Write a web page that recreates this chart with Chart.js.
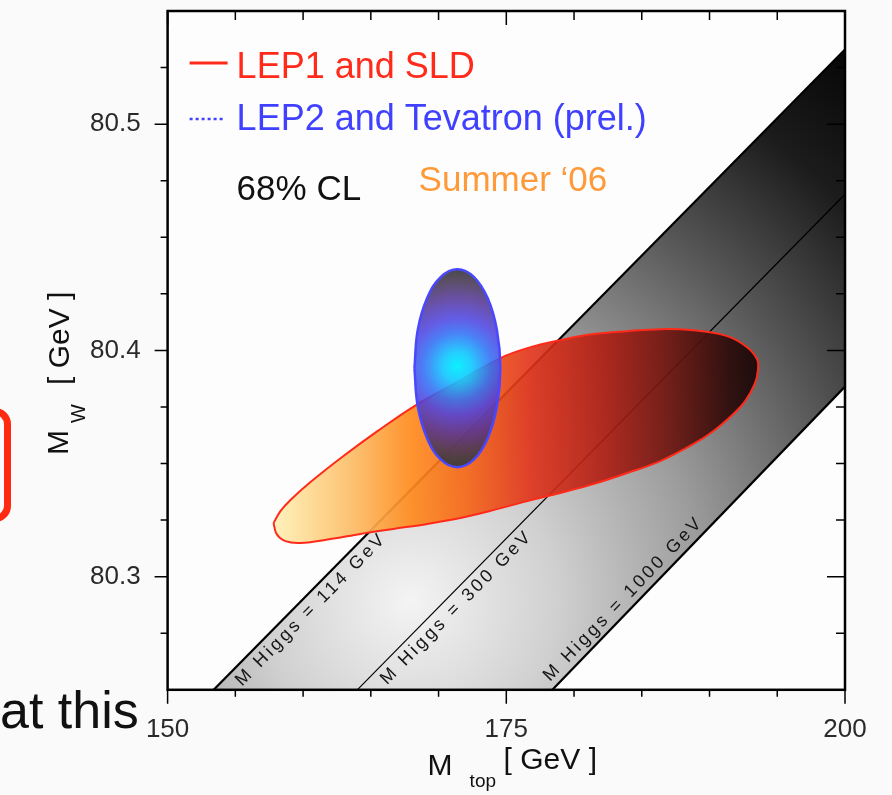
<!DOCTYPE html>
<html lang="en">
<head>
<meta charset="utf-8">
<title>M_W vs M_top</title>
<script src="https://cdn.jsdelivr.net/npm/chart.js@4.4.1/dist/chart.umd.min.js"></script>
<style>
  html, body { margin: 0; padding: 0; background: #fafafa; }
  #wrap { position: relative; width: 892px; height: 795px; overflow: hidden; }
  #mw-chart { position: absolute; left: 0; top: 0; }
  .slide-box { position: absolute; left: -26px; top: 408px; width: 23px; height: 100px; border: 7px solid #ff2a10; border-radius: 16px; }
  .slide-text { position: absolute; left: 0; top: 684px; font: 52px/52px "Liberation Sans", Arial, sans-serif; color: #111; white-space: nowrap; }
</style>
</head>
<body>
<div id="wrap">
  <canvas id="mw-chart" width="892" height="795"></canvas>
  <div class="slide-box"></div>
  <div class="slide-text">at this</div>
</div>
<script>
// M_W vs M_top, 68% CL contours (Summer '06)

const FONT = '"Liberation Sans", Arial, Helvetica, sans-serif';

// axes [GeV]
const xRange = [150, 200];
const yRange = [80.25, 80.55];
const xTickValues = [150, 175, 200];
const xMinorTicks = [155, 160, 165, 170, 180, 185, 190, 195];
const yTickValues = [80.3, 80.4, 80.5];
const yMinorTicks = [80.275, 80.325, 80.35, 80.375, 80.425, 80.45, 80.475, 80.525];

// SM lines for M_Higgs = 114 / 300 / 1000 GeV
const higgsMasses = [114, 300, 1000];
const higgsBottomX = [153.4, 164.0, 178.4];      // M_top where the line meets M_W = 80.25
const higgsRightY = [80.533, 80.469, 80.384];    // M_W where the line meets M_top = 200

// LEP1 and SLD contour
const lep1X = [157.82, 158.33, 159.07, 160.55, 162.98, 165.49, 168.22, 171.61, 174.56, 176.55,
  178.98, 181.42, 183.92, 186.36, 188.79, 191.30, 192.77, 193.51, 193.58, 193.36,
  192.63, 191.74, 190.27, 188.79, 186.36, 183.92, 181.42, 178.98, 176.55, 174.04,
  171.61, 169.17, 166.67, 164.23, 162.02, 159.81, 158.70, 158.04];
const lep1Y = [80.3237, 80.3290, 80.3339, 80.3418, 80.3533, 80.3643, 80.3754, 80.3868, 80.3966, 80.4010,
  80.4045, 80.4072, 80.4085, 80.4094, 80.4089, 80.4063, 80.4014, 80.3961, 80.3917, 80.3855,
  80.3776, 80.3718, 80.3643, 80.3586, 80.3511, 80.3458, 80.3409, 80.3370, 80.3334, 80.3294,
  80.3259, 80.3233, 80.3211, 80.3189, 80.3166, 80.3149, 80.3157, 80.3189];

// LEP2 and Tevatron (prel.) contour
const lep2X = [168.22, 168.46, 169.15, 170.17, 171.39, 172.60, 173.63, 174.31,
  174.56, 174.31, 173.63, 172.60, 171.39, 170.17, 169.15, 168.46];
const lep2Y = [80.3921, 80.4089, 80.4230, 80.4325, 80.4359, 80.4325, 80.4230, 80.4089,
  80.3921, 80.3754, 80.3612, 80.3517, 80.3484, 80.3517, 80.3612, 80.3754];

// shading anchors
const bandLightSpot = { x: 167.9, y: 80.289 };
const lep2Core = { x: 171.39, y: 80.393 };

function contour(xs, ys) {
  const pts = xs.map((x, i) => ({ x, y: ys[i] }));
  pts.push({ ...pts[0] });
  return pts;
}

function higgsLine(i) {
  return [{ x: higgsBottomX[i], y: yRange[0] }, { x: xRange[1], y: higgsRightY[i] }];
}

function toPx(chart, p) {
  return { x: chart.scales.x.getPixelForValue(p.x), y: chart.scales.y.getPixelForValue(p.y) };
}

function bandFill(c) {
  const chart = c.chart;
  if (!chart.chartArea || !chart.scales.x) return '#b0b0b0';
  const a = chart.chartArea;
  const o = toPx(chart, bandLightSpot);
  const r = Math.hypot(a.right - o.x, a.top - o.y);
  const g = chart.ctx.createRadialGradient(o.x, o.y, 0, o.x, o.y, r);
  g.addColorStop(0, '#f4f4f4');
  g.addColorStop(0.2, '#d0d0d0');
  g.addColorStop(0.4, '#9c9c9c');
  g.addColorStop(0.6, '#5a5a5a');
  g.addColorStop(0.8, '#1c1c1c');
  g.addColorStop(1, '#000000');
  return g;
}

function lep1Fill(c) {
  const chart = c.chart;
  if (!chart.chartArea || !chart.scales.x) return 'rgba(230,60,20,0.9)';
  const x0 = chart.scales.x.getPixelForValue(Math.min(...lep1X));
  const x1 = chart.scales.x.getPixelForValue(Math.max(...lep1X));
  const g = chart.ctx.createLinearGradient(x0, 0, x1, 0);
  g.addColorStop(0, 'rgba(255,242,185,0.95)');
  g.addColorStop(0.16, 'rgba(252,190,105,0.93)');
  g.addColorStop(0.28, 'rgba(255,140,30,0.92)');
  g.addColorStop(0.4, 'rgba(246,100,20,0.9)');
  g.addColorStop(0.53, 'rgba(225,50,25,0.9)');
  g.addColorStop(0.67, 'rgba(180,30,18,0.9)');
  g.addColorStop(0.81, 'rgba(115,22,16,0.92)');
  g.addColorStop(0.94, 'rgba(45,12,10,0.94)');
  g.addColorStop(1, 'rgba(25,8,8,0.95)');
  return g;
}

function lep2Fill(c) {
  const chart = c.chart;
  if (!chart.chartArea || !chart.scales.x) return 'rgba(60,80,240,0.85)';
  const o = toPx(chart, lep2Core);
  const top = chart.scales.y.getPixelForValue(Math.max(...lep2Y));
  const r = Math.abs(o.y - top);
  const g = chart.ctx.createRadialGradient(o.x, o.y, 0, o.x, o.y, r);
  g.addColorStop(0, 'rgba(0,240,255,0.95)');
  g.addColorStop(0.15, 'rgba(20,200,255,0.92)');
  g.addColorStop(0.35, 'rgba(50,110,245,0.88)');
  g.addColorStop(0.5, 'rgba(75,65,225,0.86)');
  g.addColorStop(0.7, 'rgba(80,50,150,0.85)');
  g.addColorStop(0.87, 'rgba(70,55,85,0.88)');
  g.addColorStop(1, 'rgba(58,58,58,0.92)');
  return g;
}

// text along the Higgs lines: distance along line, offset from it
const higgsLabelPlace = [
  { s: 22, d: 4, base: 'top' },
  { s: 24, d: 4, base: 'top' },
  { s: 4, d: -3, base: 'bottom' }
];

function drawHiggsLabels(chart) {
  const { ctx, chartArea: a } = chart;
  ctx.save();
  ctx.beginPath();
  ctx.rect(a.left, a.top, a.right - a.left, a.bottom - a.top);
  ctx.clip();
  ctx.fillStyle = '#151515';
  ctx.font = `18px ${FONT}`;
  if ('letterSpacing' in ctx) ctx.letterSpacing = '3px';
  higgsMasses.forEach((m, i) => {
    const [p0, p1] = higgsLine(i).map(p => toPx(chart, p));
    const ang = Math.atan2(p1.y - p0.y, p1.x - p0.x);
    const place = higgsLabelPlace[i];
    ctx.save();
    ctx.translate(p0.x, p0.y);
    ctx.rotate(ang);
    ctx.textBaseline = place.base;
    ctx.fillText(`M Higgs = ${m} GeV`, place.s, place.d);
    ctx.restore();
  });
  ctx.restore();
}

function drawKey(chart) {
  const { ctx, chartArea: a } = chart;
  const L = a.left, T = a.top;
  ctx.save();
  ctx.lineCap = 'butt';
  ctx.strokeStyle = '#ff2a1a';
  ctx.lineWidth = 3;
  ctx.beginPath();
  ctx.moveTo(L + 22, T + 52);
  ctx.lineTo(L + 60, T + 52);
  ctx.stroke();
  ctx.strokeStyle = '#4040ff';
  ctx.lineWidth = 2.5;
  ctx.setLineDash([3, 3]);
  ctx.beginPath();
  ctx.moveTo(L + 22, T + 108);
  ctx.lineTo(L + 56, T + 108);
  ctx.stroke();
  ctx.setLineDash([]);

  ctx.textBaseline = 'alphabetic';
  ctx.font = `36px ${FONT}`;
  ctx.fillStyle = '#ff2a1a';
  ctx.fillText('LEP1 and SLD', L + 69, T + 67);
  ctx.fillStyle = '#4040ff';
  ctx.fillText('LEP2 and Tevatron (prel.)', L + 69, T + 119);
  ctx.font = `35px ${FONT}`;
  ctx.fillStyle = '#111';
  ctx.fillText('68% CL', L + 69, T + 189);
  ctx.fillStyle = '#ff9a3a';
  ctx.fillText('Summer \u201806', L + 251, T + 180);
  ctx.restore();
}

function drawFrame(chart) {
  const { ctx, chartArea: a, scales: { x, y } } = chart;
  ctx.save();
  ctx.strokeStyle = '#000';
  ctx.lineWidth = 1.5;
  ctx.beginPath();
  const tick = (x0, y0, x1, y1) => { ctx.moveTo(x0, y0); ctx.lineTo(x1, y1); };
  xTickValues.forEach(v => {
    const p = x.getPixelForValue(v);
    tick(p, a.bottom, p, a.bottom + 14);
    tick(p, a.top, p, a.top + 14);
  });
  xMinorTicks.forEach(v => {
    const p = x.getPixelForValue(v);
    tick(p, a.bottom, p, a.bottom + 7);
    tick(p, a.top, p, a.top + 9);
  });
  yTickValues.forEach(v => {
    const p = y.getPixelForValue(v);
    tick(a.left - 13, p, a.left, p);
    tick(a.right - 18, p, a.right, p);
  });
  yMinorTicks.forEach(v => {
    const p = y.getPixelForValue(v);
    tick(a.left - 7, p, a.left, p);
    tick(a.right - 9, p, a.right, p);
  });
  ctx.stroke();
  ctx.lineWidth = 2.5;
  ctx.strokeRect(a.left, a.top, a.right - a.left, a.bottom - a.top);
  ctx.restore();
}

function drawTitles(chart) {
  const { ctx, chartArea: a } = chart;
  ctx.save();
  ctx.fillStyle = '#111';
  ctx.textBaseline = 'alphabetic';
  // x title
  ctx.font = `30px ${FONT}`;
  ctx.fillText('M', a.left + 260, a.bottom + 85);
  ctx.fillText('[ GeV ]', a.left + 336, a.bottom + 79);
  ctx.font = `19px ${FONT}`;
  ctx.fillText('top', a.left + 302, a.bottom + 97);
  // y title
  ctx.translate(a.left - 100, a.top + 444);
  ctx.rotate(-Math.PI / 2);
  ctx.font = `30px ${FONT}`;
  ctx.fillText('M', 0, 0);
  ctx.fillText('[ GeV ]', 70, 1);
  ctx.font = `20px ${FONT}`;
  ctx.fillText('W', 32, 17);
  ctx.restore();
}

const overlay = {
  id: 'overlay',
  beforeDatasetsDraw(chart) {
    const { ctx, chartArea: a } = chart;
    ctx.save();
    ctx.fillStyle = '#fdfdfd';
    ctx.fillRect(a.left, a.top, a.right - a.left, a.bottom - a.top);
    ctx.restore();
  },
  afterDatasetsDraw(chart) {
    drawHiggsLabels(chart);
    drawKey(chart);
    drawFrame(chart);
  },
  afterDraw(chart) {
    drawTitles(chart);
  }
};

// labels sit at the very edges, don't let them push the plot inwards
function noEdgePadding(s) {
  s.paddingTop = 0;
  s.paddingBottom = 0;
  s.paddingLeft = 0;
  s.paddingRight = 0;
}

const ctx = document.getElementById('mw-chart').getContext('2d');

new Chart(ctx, {
  type: 'line',
  data: {
    datasets: [
      {
        label: 'LEP2 and Tevatron (prel.)',
        data: contour(lep2X, lep2Y),
        borderColor: '#4848ff',
        borderWidth: 2.5,
        backgroundColor: lep2Fill,
        fill: 'shape',
        tension: 0.4,
        order: 1
      },
      {
        label: 'LEP1 and SLD',
        data: contour(lep1X, lep1Y),
        borderColor: '#ff2a1a',
        borderWidth: 2,
        backgroundColor: lep1Fill,
        fill: 'shape',
        tension: 0.35,
        order: 2
      },
      ...higgsMasses.map((m, i) => ({
        label: `M Higgs = ${m} GeV`,
        data: higgsLine(i),
        borderColor: '#000',
        borderWidth: i === 1 ? 1.2 : 2.2,
        fill: false,
        tension: 0,
        order: 3
      })),
      {
        label: 'SM',
        data: [...higgsLine(0), ...higgsLine(2).reverse()],
        borderWidth: 0,
        borderColor: 'rgba(0,0,0,0)',
        backgroundColor: bandFill,
        fill: 'shape',
        tension: 0,
        order: 4
      }
    ]
  },
  options: {
    responsive: false,
    animation: false,
    events: [],
    elements: { point: { radius: 0 } },
    layout: { autoPadding: false, padding: { left: 63, right: 47, top: 11, bottom: 26 } },
    plugins: {
      legend: { display: false },
      tooltip: { enabled: false }
    },
    scales: {
      x: {
        type: 'linear',
        min: xRange[0],
        max: xRange[1],
        afterBuildTicks: s => { s.ticks = xTickValues.map(v => ({ value: v })); },
        afterFit: noEdgePadding,
        ticks: {
          callback: v => String(v),
          font: { family: FONT, size: 26 },
          color: '#2a2a2a',
          padding: 24,
          maxRotation: 0,
          autoSkip: false
        },
        grid: { display: false, drawTicks: false },
        border: { display: false }
      },
      y: {
        type: 'linear',
        min: yRange[0],
        max: yRange[1],
        afterBuildTicks: s => { s.ticks = yTickValues.map(v => ({ value: v })); },
        afterFit: noEdgePadding,
        ticks: {
          callback: v => Number(v).toFixed(1),
          font: { family: FONT, size: 26 },
          color: '#2a2a2a',
          padding: 27,
          autoSkip: false
        },
        grid: { display: false, drawTicks: false },
        border: { display: false }
      }
    }
  },
  plugins: [overlay]
});
</script>
</body>
</html>
